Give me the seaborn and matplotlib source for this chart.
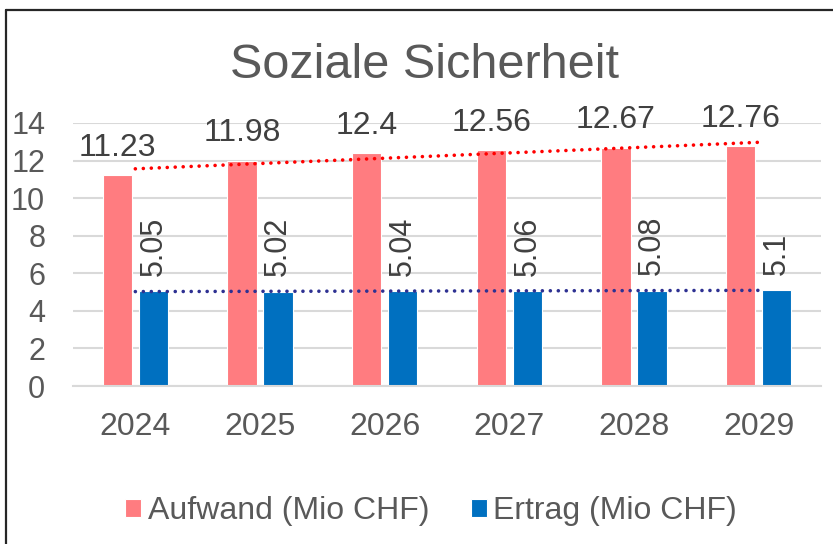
import matplotlib
matplotlib.use('Agg')
import matplotlib.pyplot as plt
import seaborn as sns
import pandas as pd
import numpy as np
from matplotlib.lines import Line2D

# ---- data ----
years = ['2024', '2025', '2026', '2027', '2028', '2029']
aufwand = [11.23, 11.98, 12.4, 12.56, 12.67, 12.76]
ertrag = [5.05, 5.02, 5.04, 5.06, 5.08, 5.1]
series = ['Aufwand (Mio CHF)', 'Ertrag (Mio CHF)']
title = 'Soziale Sicherheit'
yticks = [0, 2, 4, 6, 8, 10, 12, 14]

bar_colors = ['#FF7C80', '#0070C0']
trend_colors = ['#FF0000', '#2E3192']

sns.set_theme(style='white')
plt.rcParams['font.family'] = ['Liberation Sans', 'DejaVu Sans']

df = pd.DataFrame({
    'Jahr': years * 2,
    'Wert': aufwand + ertrag,
    'Serie': [series[0]] * len(years) + [series[1]] * len(years),
})

W, H = 833, 544
fig = plt.figure(figsize=(W / 100, H / 100), dpi=100)
ax = fig.add_axes([73 / W, 158 / H, 748 / W, 263 / H])

sns.barplot(data=df, x='Jahr', y='Wert', hue='Serie', hue_order=series,
            palette=bar_colors, saturation=1, width=0.58, gap=0.19, ax=ax,
            edgecolor='white', linewidth=0.8, legend=True)

# trend lines (linear fit, dotted)
xpos = np.arange(len(years))
for vals, col in zip([aufwand, ertrag], trend_colors):
    sns.regplot(x=xpos, y=np.array(vals), scatter=False, ci=None, truncate=True, ax=ax,
                line_kws=dict(color=col, lw=2.6, ls=(0, (0.01, 2.2)),
                              dash_capstyle='round', solid_capstyle='round'))

# data labels
label_color = '#404040'
ax.bar_label(ax.containers[0], labels=[f'{v:g}' for v in aufwand], padding=9,
             fontsize=23, color=label_color)
ax.bar_label(ax.containers[1], labels=[f'{v:g}' for v in ertrag], padding=11,
             fontsize=22, color=label_color, rotation=90)

ax.set_xlim(-0.5, len(years) - 0.5)
ax.set_ylim(0, 14)
ax.set_yticks(yticks)
ax.set_xlabel('')
ax.set_ylabel('')
ax.yaxis.grid(True, color='#D9D9D9', lw=1.5)
ax.set_axisbelow(True)
for s in ['left', 'right', 'top']:
    ax.spines[s].set_visible(False)
ax.spines['bottom'].set_color('#D9D9D9')
ax.spines['bottom'].set_linewidth(1.5)
ax.tick_params(axis='y', length=0, pad=20, labelsize=22, labelcolor='#595959')
ax.tick_params(axis='x', length=0, pad=19, labelsize=23, labelcolor='#595959')

handles, labels = ax.get_legend_handles_labels()
ax.get_legend().remove()
fig.legend(handles, labels, loc='center', bbox_to_anchor=(431 / W, 33 / H),
           ncol=2, frameon=False, fontsize=23, labelcolor='#595959',
           handlelength=0.5, handleheight=0.5, handletextpad=0.2,
           columnspacing=1.3)

fig.text(425 / W, 1 - 78 / H, title, ha='center', va='baseline',
         fontsize=35, color='#595959', transform=fig.transFigure)

# outer frame (left and top edges visible)
fig.add_artist(Line2D([6 / W, 6 / W], [0, 1 - 10 / H], transform=fig.transFigure,
                      color='#262626', lw=1.6))
fig.add_artist(Line2D([6 / W, 1], [1 - 10 / H, 1 - 10 / H], transform=fig.transFigure,
                      color='#262626', lw=1.6))

fig.savefig('out.png', dpi=100)
